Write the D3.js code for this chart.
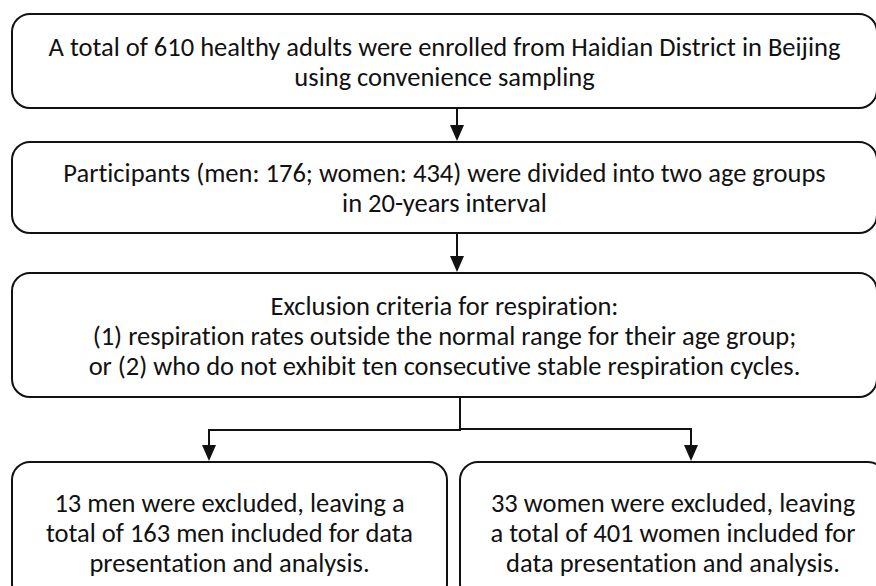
<!DOCTYPE html>
<html>
<head>
<meta charset="utf-8">
<script src="https://cdn.jsdelivr.net/npm/d3@7"></script>
<style>
	body { margin: 0; background: #fff; }
	svg { display: block; }
	.box { fill: #fff; stroke: #111; stroke-width: 2; }
	.link { fill: none; stroke: #111; stroke-width: 2; }
	.head { fill: #111; }
	.label { font-family: Carlito, Calibri, "Open Sans", sans-serif; font-size: 26.5px; fill: #111;
		font-variant-ligatures: none; }
</style>
</head>
<body>
<svg id="chart"></svg>
<script>
// box texts, one array per step
var stepEnrolled = ['A total of 610 healthy adults were enrolled from Haidian District in Beijing',
	'using convenience sampling'];
var stepGrouped = ['Participants (men: 176; women: 434) were divided into two age groups',
	'in 20-years interval'];
var stepCriteria = ['Exclusion criteria for respiration:',
	'(1) respiration rates outside the normal range for their age group;',
	'or (2) who do not exhibit ten consecutive stable respiration cycles.'];
var stepMen = ['13 men were excluded, leaving a', 'total of 163 men included for data',
	'presentation and analysis.'];
var stepWomen = ['33 women were excluded, leaving', 'a total of 401 women included for',
	'data presentation and analysis.'];

// canvas
var width = 876;
var height = 586;
var lineGap = 30;
var radius = 18;
var headW = 14;
var headH = 16;

var svg = d3.select('svg#chart').attr('width', width).attr('height', height);

// layout of the boxes (x0, x1, y0, y1)
var boxes = [
	{ lines: stepEnrolled, x0: 12, x1: 877, y0: 14, y1: 108 },
	{ lines: stepGrouped, x0: 12, x1: 877, y0: 142, y1: 233 },
	{ lines: stepCriteria, x0: 12, x1: 877, y0: 273, y1: 397 },
	{ lines: stepMen, x0: 12, x1: 447, y0: 462, y1: 602 },
	{ lines: stepWomen, x0: 460, x1: 886, y0: 462, y1: 602 }
];

// connector polylines, each ends in an arrow head
var links = [
	[ [457, 108], [457, 142] ],
	[ [457, 233], [457, 273] ],
	[ [460, 397], [460, 430], [209, 430], [209, 462] ],
	[ [460, 429], [691, 429], [691, 462] ]
];

var g = svg.append('g');

g.selectAll('rect.box').data(boxes).enter().append('rect').classed('box', true)
		.attr('x', function(d) { return d.x0; })
		.attr('y', function(d) { return d.y0; })
		.attr('width', function(d) { return d.x1 - d.x0; })
		.attr('height', function(d) { return d.y1 - d.y0; })
		.attr('rx', radius).attr('ry', radius);

// text lines centred in each box
boxes.forEach(function(b) {
	var cx = (b.x0 + b.x1) / 2;
	var cy = (b.y0 + b.y1) / 2;
	var n = b.lines.length;
	g.append('g').selectAll('text').data(b.lines).enter().append('text')
			.classed('label', true)
			.attr('x', cx)
			.attr('y', function(d, i) { return cy + (i - (n - 1) / 2) * lineGap; })
			.attr('dy', '0.36em')
			.attr('text-anchor', 'middle')
			.text(function(d) { return d; });
});

var line = d3.line();

// draw connectors, stopping the line at the arrow head
links.forEach(function(pts) {
	var last = pts[pts.length - 1];
	var body = pts.slice(0, -1).concat([[last[0], last[1] - headH + 2]]);
	g.append('path').classed('link', true).attr('d', line(body));
	g.append('path').classed('head', true).attr('d', line([
		[last[0] - headW / 2, last[1] - headH - 1],
		[last[0] + headW / 2, last[1] - headH - 1],
		[last[0], last[1] - 1]
	]) + 'Z');
});
</script>
</body>
</html>
